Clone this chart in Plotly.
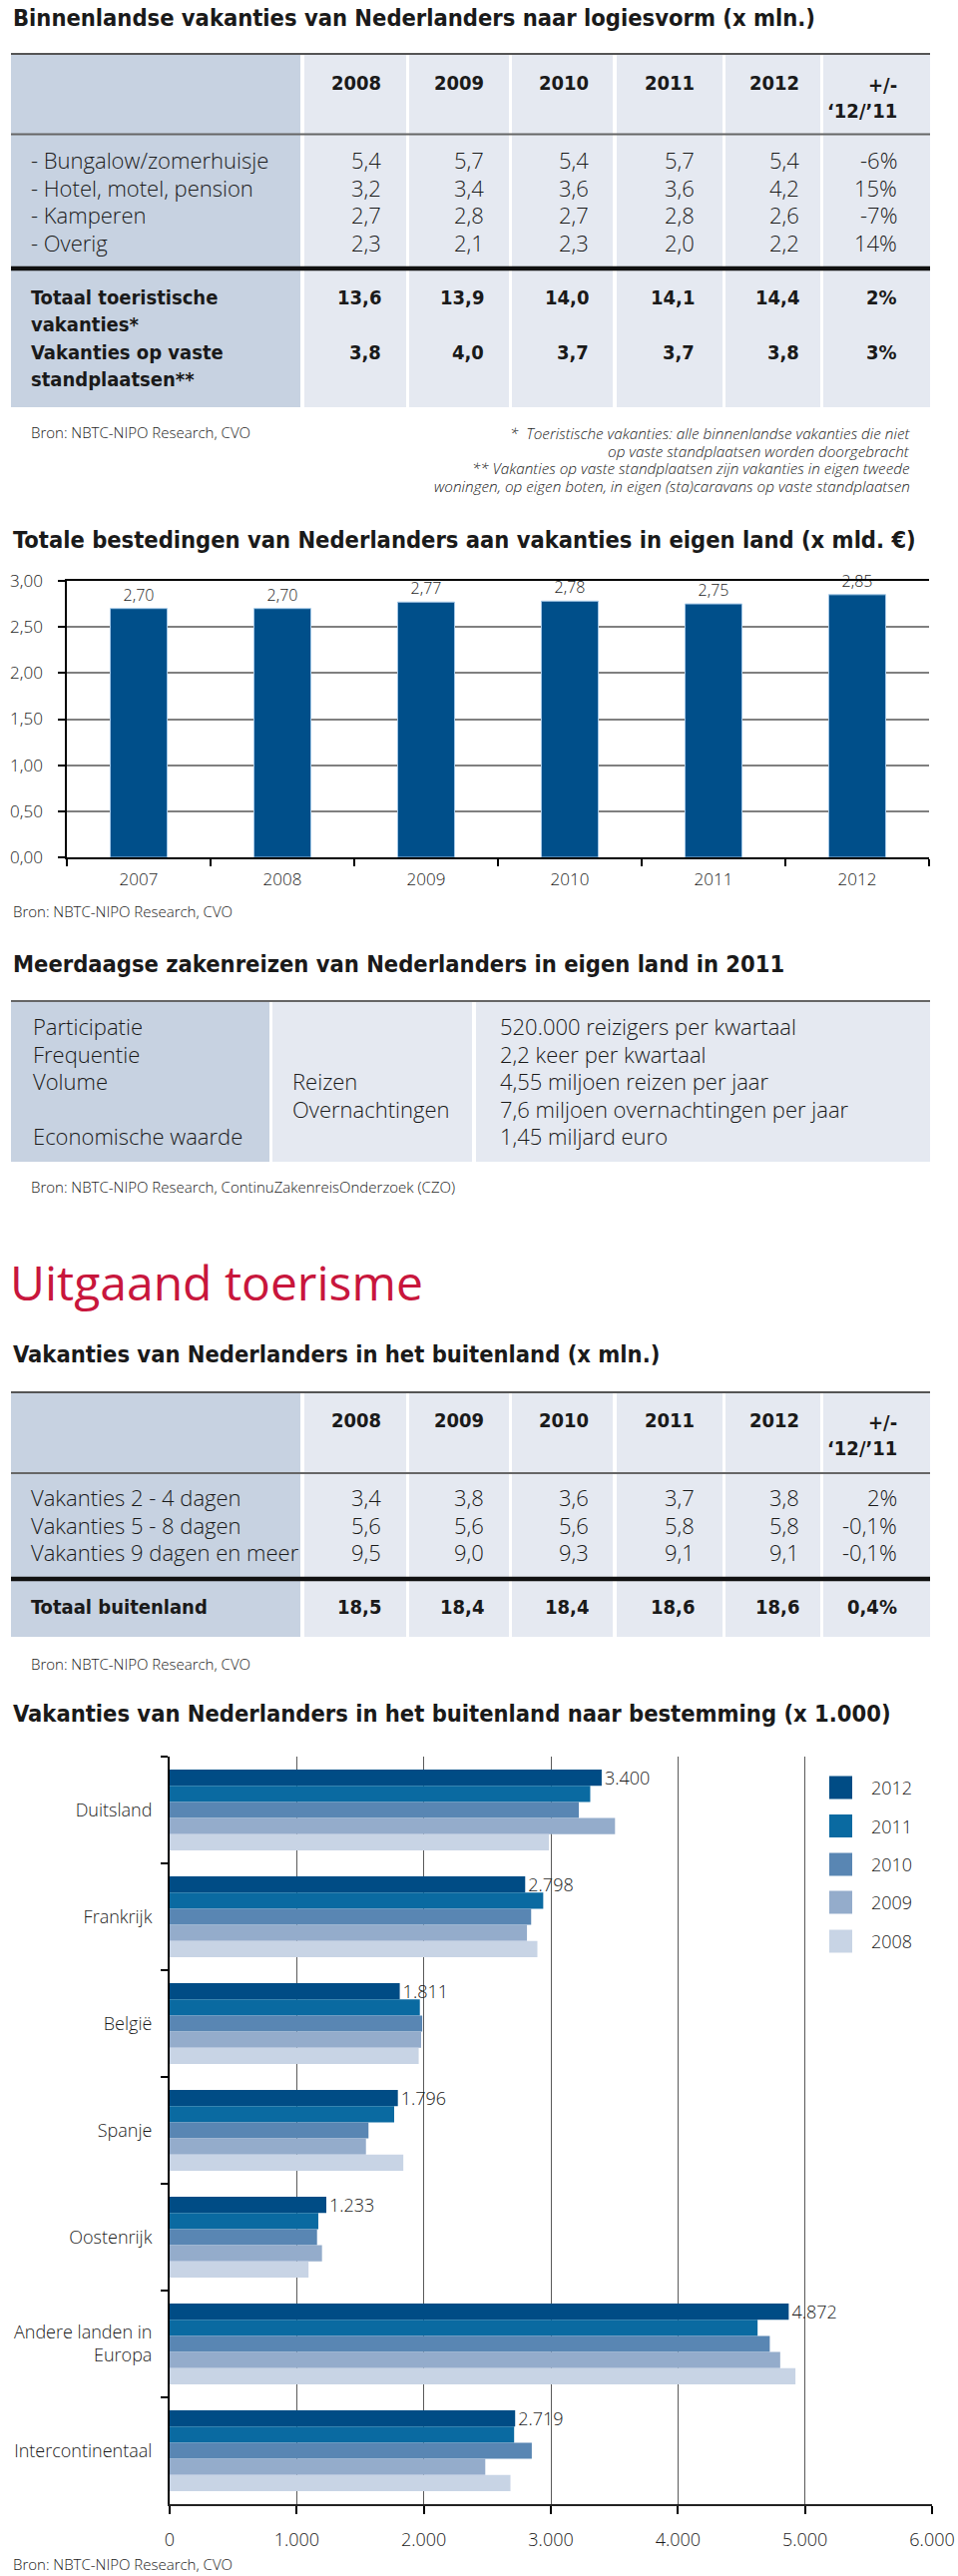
import plotly.graph_objects as go

W, H = 960, 2581

# ---------------- DATA ----------------
table_years = ["2008", "2009", "2010", "2011", "2012"]
change_head = ["+/-", "‘12/’11"]

logies_labels = ["- Bungalow/zomerhuisje", "- Hotel, motel, pension", "- Kamperen", "- Overig"]
bungalow = [5.4, 5.7, 5.4, 5.7, 5.4]
hotel = [3.2, 3.4, 3.6, 3.6, 4.2]
kamperen = [2.7, 2.8, 2.7, 2.8, 2.6]
overig = [2.3, 2.1, 2.3, 2.0, 2.2]
logies_change = [-6, 15, -7, 14]

totals_labels = [["Totaal toeristische", "vakanties*"], ["Vakanties op vaste", "standplaatsen**"]]
totaal_toeristisch = [13.6, 13.9, 14.0, 14.1, 14.4]
vaste_standplaatsen = [3.8, 4.0, 3.7, 3.7, 3.8]
totals_change = [2, 3]

footnotes = [
    "*  Toeristische vakanties: alle binnenlandse vakanties die niet",
    "op vaste standplaatsen worden doorgebracht",
    "** Vakanties op vaste standplaatsen zijn vakanties in eigen tweede",
    "woningen, op eigen boten, in eigen (sta)caravans op vaste standplaatsen",
]

spend_years = ["2007", "2008", "2009", "2010", "2011", "2012"]
spend_values = [2.70, 2.70, 2.77, 2.78, 2.75, 2.85]

zaken_labels = ["Participatie", "Frequentie", "Volume", "", "Economische waarde"]
zaken_sub = ["", "", "Reizen", "Overnachtingen", ""]
zaken_values = ["520.000 reizigers per kwartaal", "2,2 keer per kwartaal",
                "4,55 miljoen reizen per jaar", "7,6 miljoen overnachtingen per jaar",
                "1,45 miljard euro"]

buiten_labels = ["Vakanties 2 - 4 dagen", "Vakanties 5 - 8 dagen", "Vakanties 9 dagen en meer"]
dagen_2_4 = [3.4, 3.8, 3.6, 3.7, 3.8]
dagen_5_8 = [5.6, 5.6, 5.6, 5.8, 5.8]
dagen_9_meer = [9.5, 9.0, 9.3, 9.1, 9.1]
buiten_change = [2, -0.1, -0.1]
totaal_buiten = [18.5, 18.4, 18.4, 18.6, 18.6]
totaal_buiten_change = 0.4

destinations = ["Duitsland", "Frankrijk", "België", "Spanje", "Oostenrijk",
                "Andere landen in<br>Europa", "Intercontinentaal"]
dest_years = ["2012", "2011", "2010", "2009", "2008"]
dest_2012 = [3400, 2798, 1811, 1796, 1233, 4872, 2719]
dest_2011 = [3310, 2940, 1969, 1767, 1170, 4627, 2711]
dest_2010 = [3220, 2845, 1988, 1565, 1160, 4723, 2850]
dest_2009 = [3505, 2812, 1979, 1545, 1199, 4805, 2484]
dest_2008 = [2985, 2894, 1960, 1839, 1093, 4925, 2682]

# ---------------- STYLE ----------------
BODY = "Open Sans, Noto Sans, DejaVu Sans, sans-serif"
BODY_W = 300
COND = "DejaVu Sans Condensed, Liberation Sans Narrow, sans-serif"
TXT = "#1a1a1a"
DARK_COL = "#c7d2e1"
LIGHT_COL = "#e5e9f1"
RED = "#c8163c"
BAR_BLUE = "#004f8a"
DEST_COLORS = ["#004c85", "#0a6aa1", "#5986b3", "#94accb", "#c8d4e5"]


def P(x):
    return x / W


def Q(y):
    return 1 - y / H


annotations = []
shapes = []


def text(x, y, s, size=19, anchor="left", bold=False, style="normal", color=TXT, weight=None):
    fam = COND if bold else BODY
    w = "bold" if bold else (weight or BODY_W)
    annotations.append(dict(
        x=P(x), y=Q(y), xref="paper", yref="paper", text=s, showarrow=False,
        xanchor=anchor, yanchor="middle", align=anchor if anchor != "center" else "center",
        font=dict(family=fam, size=size, color=color, weight=w, style=style)))


def rect(x0, y0, x1, y1, color):
    shapes.append(dict(type="rect", xref="paper", yref="paper", x0=P(x0), x1=P(x1),
                       y0=Q(y1), y1=Q(y0), fillcolor=color, line=dict(width=0), layer="below"))


def hline(y, x0, x1, color, width):
    shapes.append(dict(type="line", xref="paper", yref="paper", x0=P(x0), x1=P(x1),
                       y0=Q(y), y1=Q(y), line=dict(color=color, width=width)))


def nl(v, d=1):
    return f"{v:.{d}f}".replace(".", ",")


def pct(v):
    return f"{v:g}%".replace(".", ",")


TITLE_SIZE = 23.5
ROW_SIZE = 22
BOLD_SIZE = 20
BRON = "Bron: NBTC-NIPO Research, CVO"
BRON_SIZE = 15

# column geometry of the year tables
COLS = [(11, 301), (305, 407), (410, 510), (513, 614), (618, 724), (727, 822), (825, 932)]
NUM_RIGHT = [384, 487, 592, 698, 803, 901]
LABEL_X = 29


def table_frame(top, head_line, thick_line, bottom):
    for i, (a, b) in enumerate(COLS):
        rect(a, top, b, bottom, DARK_COL if i == 0 else LIGHT_COL)
    hline(top, 11, 932, "#555555", 2)
    hline(head_line, 11, 932, "#666666", 2)
    hline(thick_line, 11, 932, "#111111", 4.5)


def table_header(y):
    for j, yr in enumerate(table_years):
        text(NUM_RIGHT[j], y, yr, size=BOLD_SIZE, anchor="right", bold=True)
    text(NUM_RIGHT[5], y + 2, change_head[0], size=BOLD_SIZE, anchor="right", bold=True)
    text(NUM_RIGHT[5], y + 28, change_head[1], size=BOLD_SIZE, anchor="right", bold=True)


# ---------------- SECTION 1: logiesvorm table ----------------
text(11, 18, "Binnenlandse vakanties van Nederlanders naar logiesvorm (x mln.)", size=TITLE_SIZE, bold=True)
table_frame(54, 134.5, 269, 408)
table_header(83)
row_y = [160, 188, 215, 243]
for lab, vals, ch, y in zip(logies_labels, [bungalow, hotel, kamperen, overig], logies_change, row_y):
    text(LABEL_X, y, lab, size=ROW_SIZE)
    for j, v in enumerate(vals):
        text(NUM_RIGHT[j], y, nl(v), size=ROW_SIZE, anchor="right")
    text(NUM_RIGHT[5], y, pct(ch), size=ROW_SIZE, anchor="right")

for labs, vals, ch, y in zip(totals_labels, [totaal_toeristisch, vaste_standplaatsen], totals_change, [298, 353]):
    text(LABEL_X, y, labs[0], size=BOLD_SIZE, bold=True)
    text(LABEL_X, y + 27, labs[1], size=BOLD_SIZE, bold=True)
    for j, v in enumerate(vals):
        text(NUM_RIGHT[j], y, nl(v), size=BOLD_SIZE, anchor="right", bold=True)
    text(NUM_RIGHT[5], y, pct(ch), size=BOLD_SIZE, anchor="right", bold=True)

text(29, 433, BRON, size=BRON_SIZE)
for i, line in enumerate(footnotes):
    text(914, 434 + i * 17.7, line, size=15.3, anchor="right", style="italic")

# ---------------- SECTION 2: bestedingen bar chart ----------------
text(11, 541, "Totale bestedingen van Nederlanders aan vakanties in eigen land (x mld. €)", size=TITLE_SIZE, bold=True)
text(11, 913, BRON, size=BRON_SIZE)

# ---------------- SECTION 3: zakenreizen ----------------
text(11, 966, "Meerdaagse zakenreizen van Nederlanders in eigen land in 2011", size=TITLE_SIZE, bold=True)
rect(11, 1003, 270, 1164, DARK_COL)
rect(273, 1003, 473, 1164, LIGHT_COL)
rect(477, 1003, 932, 1164, LIGHT_COL)
hline(1003, 11, 932, "#666666", 2)
zaken_y = [1028, 1056, 1083, 1111, 1138]
for lab, sub, val, y in zip(zaken_labels, zaken_sub, zaken_values, zaken_y):
    if lab:
        text(31, y, lab, size=ROW_SIZE)
    if sub:
        text(291, y, sub, size=ROW_SIZE)
    text(499, y, val, size=ROW_SIZE)
text(29, 1189, "Bron: NBTC-NIPO Research, ContinuZakenreisOnderzoek (CZO)", size=BRON_SIZE)

# ---------------- SECTION 4: Uitgaand toerisme ----------------
text(8, 1284, "Uitgaand toerisme", size=48, color=RED, weight=400)
text(11, 1357, "Vakanties van Nederlanders in het buitenland (x mln.)", size=TITLE_SIZE, bold=True)
table_frame(1395, 1476, 1582, 1640)
table_header(1423)
for lab, vals, ch, y in zip(buiten_labels, [dagen_2_4, dagen_5_8, dagen_9_meer], buiten_change, [1500, 1528, 1555]):
    text(LABEL_X, y, lab, size=ROW_SIZE)
    for j, v in enumerate(vals):
        text(NUM_RIGHT[j], y, nl(v), size=ROW_SIZE, anchor="right")
    text(NUM_RIGHT[5], y, pct(ch), size=ROW_SIZE, anchor="right")
text(LABEL_X, 1610, "Totaal buitenland", size=BOLD_SIZE, bold=True)
for j, v in enumerate(totaal_buiten):
    text(NUM_RIGHT[j], 1610, nl(v), size=BOLD_SIZE, anchor="right", bold=True)
text(NUM_RIGHT[5], 1610, pct(totaal_buiten_change), size=BOLD_SIZE, anchor="right", bold=True)
text(29, 1667, BRON, size=BRON_SIZE)

# ---------------- SECTION 5: bestemming hbar ----------------
text(11, 1717, "Vakanties van Nederlanders in het buitenland naar bestemming (x 1.000)", size=TITLE_SIZE, bold=True)
text(11, 2569, BRON, size=BRON_SIZE)

# legend (drawn)
leg_y = [1791, 1829.5, 1868, 1906, 1945]
for yr, col, y in zip(dest_years, DEST_COLORS, leg_y):
    rect(831, y - 11.5, 854, y + 11.5, col)
    text(871, y, yr, size=18)

# ---------------- TRACES ----------------
fig = go.Figure()

fig.add_trace(go.Bar(
    x=spend_years, y=spend_values, width=0.396,
    marker=dict(color=BAR_BLUE, line=dict(color="#a3c7e6", width=1)),
    texttemplate="%{y:.2f}", textposition="outside", constraintext="none",
    textfont=dict(family=BODY, size=16, color=TXT, weight=BODY_W), cliponaxis=False,
    xaxis="x", yaxis="y", showlegend=False, hoverinfo="skip"))

for yr, vals, col in zip(dest_years, [dest_2012, dest_2011, dest_2010, dest_2009, dest_2008], DEST_COLORS):
    fig.add_trace(go.Bar(
        y=destinations, x=vals, orientation="h", name=yr,
        marker=dict(color=col, line=dict(width=0)),
        texttemplate="%{x:,d}" if yr == "2012" else None,
        textposition="outside" if yr == "2012" else "none",
        constraintext="none", cliponaxis=False,
        textfont=dict(family=BODY, size=18, color=TXT, weight=BODY_W),
        xaxis="x2", yaxis="y2", showlegend=False, hoverinfo="skip"))

tickfont17 = dict(family=BODY, size=17, color=TXT, weight=BODY_W)
tickfont18 = dict(family=BODY, size=18, color=TXT, weight=BODY_W)

fig.update_layout(
    template="none",
    width=W, height=H,
    margin=dict(l=0, r=0, t=0, b=0, pad=0),
    paper_bgcolor="white", plot_bgcolor="rgba(0,0,0,0)",
    separators=",.",
    barmode="group", bargap=0.243, bargroupgap=0,
    showlegend=False,
    annotations=annotations, shapes=shapes,
    xaxis=dict(domain=[P(67), P(931)], anchor="y", type="category",
               tickson="boundaries", ticks="outside", ticklen=7, tickwidth=1.5, tickcolor="black",
               showline=True, linecolor="black", linewidth=2, mirror=True,
               showgrid=False, zeroline=False, tickfont=tickfont17, ticklabelstandoff=6,
               automargin=False, fixedrange=True),
    yaxis=dict(domain=[Q(859), Q(582)], anchor="x", range=[0, 3], dtick=0.5, tickformat=".2f",
               showgrid=True, gridcolor="#808080", gridwidth=1.5,
               ticks="outside", ticklen=7, tickwidth=1.5, tickcolor="black",
               showline=True, linecolor="black", linewidth=1.5, zeroline=False,
               tickfont=tickfont17, ticklabelstandoff=12, automargin=False, fixedrange=True),
    xaxis2=dict(domain=[P(170), P(934)], anchor="y2", range=[0, 6000], dtick=1000, tickformat=",d",
                showgrid=True, gridcolor="#5a5a5a", gridwidth=1,
                ticks="outside", ticklen=8, tickwidth=1.5, tickcolor="black",
                showline=True, linecolor="#222222", linewidth=2, zeroline=False,
                tickfont=tickfont18, ticklabelstandoff=10, automargin=False, fixedrange=True),
    yaxis2=dict(domain=[Q(2509), Q(1760)], anchor="x2", type="category", autorange="reversed",
                tickson="boundaries", ticks="outside", ticklen=7, tickwidth=1.5, tickcolor="black",
                showline=True, linecolor="black", linewidth=2, showgrid=False, zeroline=False,
                tickfont=tickfont18, ticklabelstandoff=12, automargin=False, fixedrange=True),
)

fig.write_html("out.html", config={"displayModeBar": False},
               post_script="document.body.style.margin='0';")
